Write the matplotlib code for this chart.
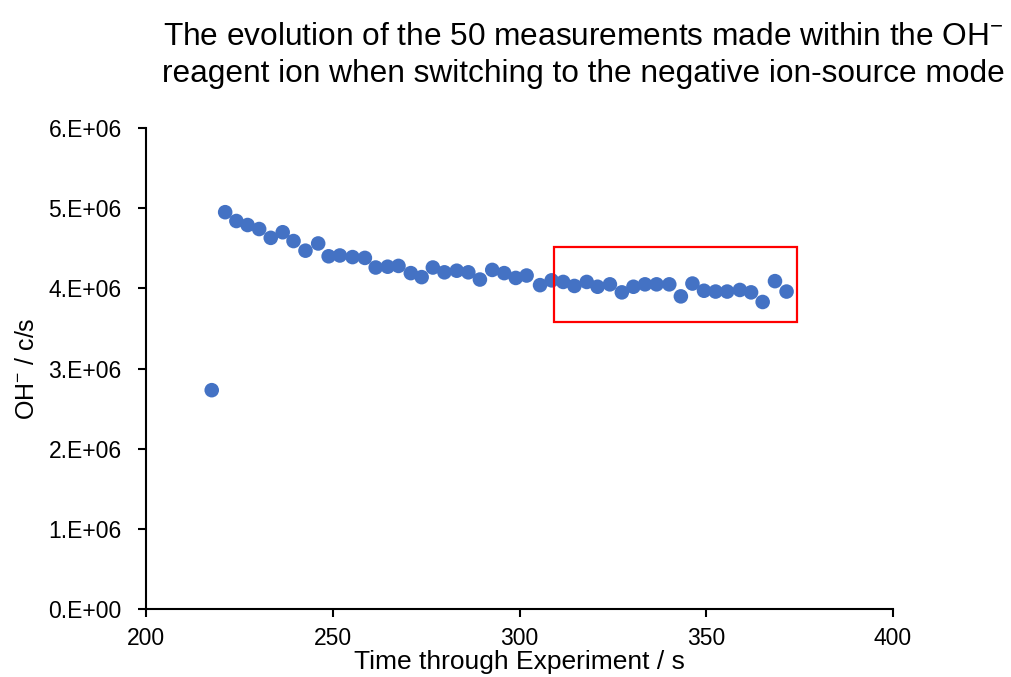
import matplotlib
matplotlib.use("Agg")
import matplotlib.pyplot as plt
from matplotlib.patches import Rectangle
from matplotlib.ticker import FuncFormatter, MultipleLocator

plt.rcParams['font.family'] = ['Liberation Sans', 'DejaVu Sans']
plt.rcParams['mathtext.fontset'] = 'custom'
plt.rcParams['mathtext.rm'] = 'Liberation Sans'
plt.rcParams['mathtext.it'] = 'Liberation Sans'
plt.rcParams['mathtext.bf'] = 'Liberation Sans'

# Data (time in s, OH- signal in c/s)
time_s = [217.6, 221.2, 224.2, 227.2, 230.3, 233.4, 236.6, 239.5, 242.7, 246.1,
          248.9, 251.9, 255.3, 258.6, 261.5, 264.7, 267.6, 270.9, 273.8, 276.8,
          279.9, 283.2, 286.3, 289.4, 292.7, 295.9, 299.0, 301.9, 305.5, 308.6,
          311.7, 314.7, 318.0, 320.9, 324.2, 327.4, 330.5, 333.6, 336.7, 340.1,
          343.2, 346.3, 349.4, 352.5, 355.6, 359.0, 362.0, 365.1, 368.4, 371.5]
oh_signal = [2.73e6, 4.95e6, 4.84e6, 4.79e6, 4.74e6, 4.63e6, 4.70e6, 4.59e6, 4.47e6, 4.56e6,
             4.40e6, 4.41e6, 4.39e6, 4.38e6, 4.26e6, 4.27e6, 4.28e6, 4.19e6, 4.14e6, 4.26e6,
             4.20e6, 4.22e6, 4.20e6, 4.11e6, 4.23e6, 4.19e6, 4.13e6, 4.16e6, 4.04e6, 4.10e6,
             4.08e6, 4.03e6, 4.08e6, 4.02e6, 4.05e6, 3.95e6, 4.02e6, 4.05e6, 4.05e6, 4.05e6,
             3.90e6, 4.06e6, 3.97e6, 3.96e6, 3.96e6, 3.98e6, 3.95e6, 3.83e6, 4.09e6, 3.96e6]

# Highlight box (data coords)
box_x = [309.2, 374.3]
box_y = [3.58e6, 4.515e6]

x_limits = [200, 400]
y_limits = [0, 6e6]

fig = plt.figure(figsize=(10.11, 6.77), dpi=100)
ax = fig.add_axes([0.1444, 0.1004, 0.7389, 0.7105])

ax.scatter(time_s, oh_signal, s=110, color='#4472C4', edgecolors='none', zorder=3)

ax.add_patch(Rectangle((box_x[0], box_y[0]), box_x[1] - box_x[0], box_y[1] - box_y[0],
                       fill=False, edgecolor='#FF0000', linewidth=1.6, zorder=4))

ax.set_xlim(*x_limits)
ax.set_ylim(*y_limits)
ax.xaxis.set_major_locator(MultipleLocator(50))
ax.yaxis.set_major_locator(MultipleLocator(1e6))


def fmt(v, pos):
    if v == 0:
        return '0.E+00'
    return f'{v / 1e6:.0f}.E+06'


ax.yaxis.set_major_formatter(FuncFormatter(fmt))

for side in ['top', 'right']:
    ax.spines[side].set_visible(False)
for side in ['left', 'bottom']:
    ax.spines[side].set_linewidth(1.5)
    ax.spines[side].set_color('black')

ax.tick_params(axis='y', direction='out', length=6, width=1.5, pad=11.5, labelsize=16.5)
ax.tick_params(axis='x', direction='out', length=6, width=1.5, pad=7, labelsize=16.5)

ax.set_xlabel('Time through Experiment / s', fontsize=19, labelpad=0)
ax.set_ylabel('OH$^{-}$ / c/s', fontsize=18, labelpad=7)

fig.text(0.577, 0.968,
         'The evolution of the 50 measurements made within the OH$^{-}$\n'
         'reagent ion when switching to the negative ion-source mode',
         ha='center', va='top', fontsize=22.8, linespacing=1.3)

fig.savefig('out.png', dpi=100)
